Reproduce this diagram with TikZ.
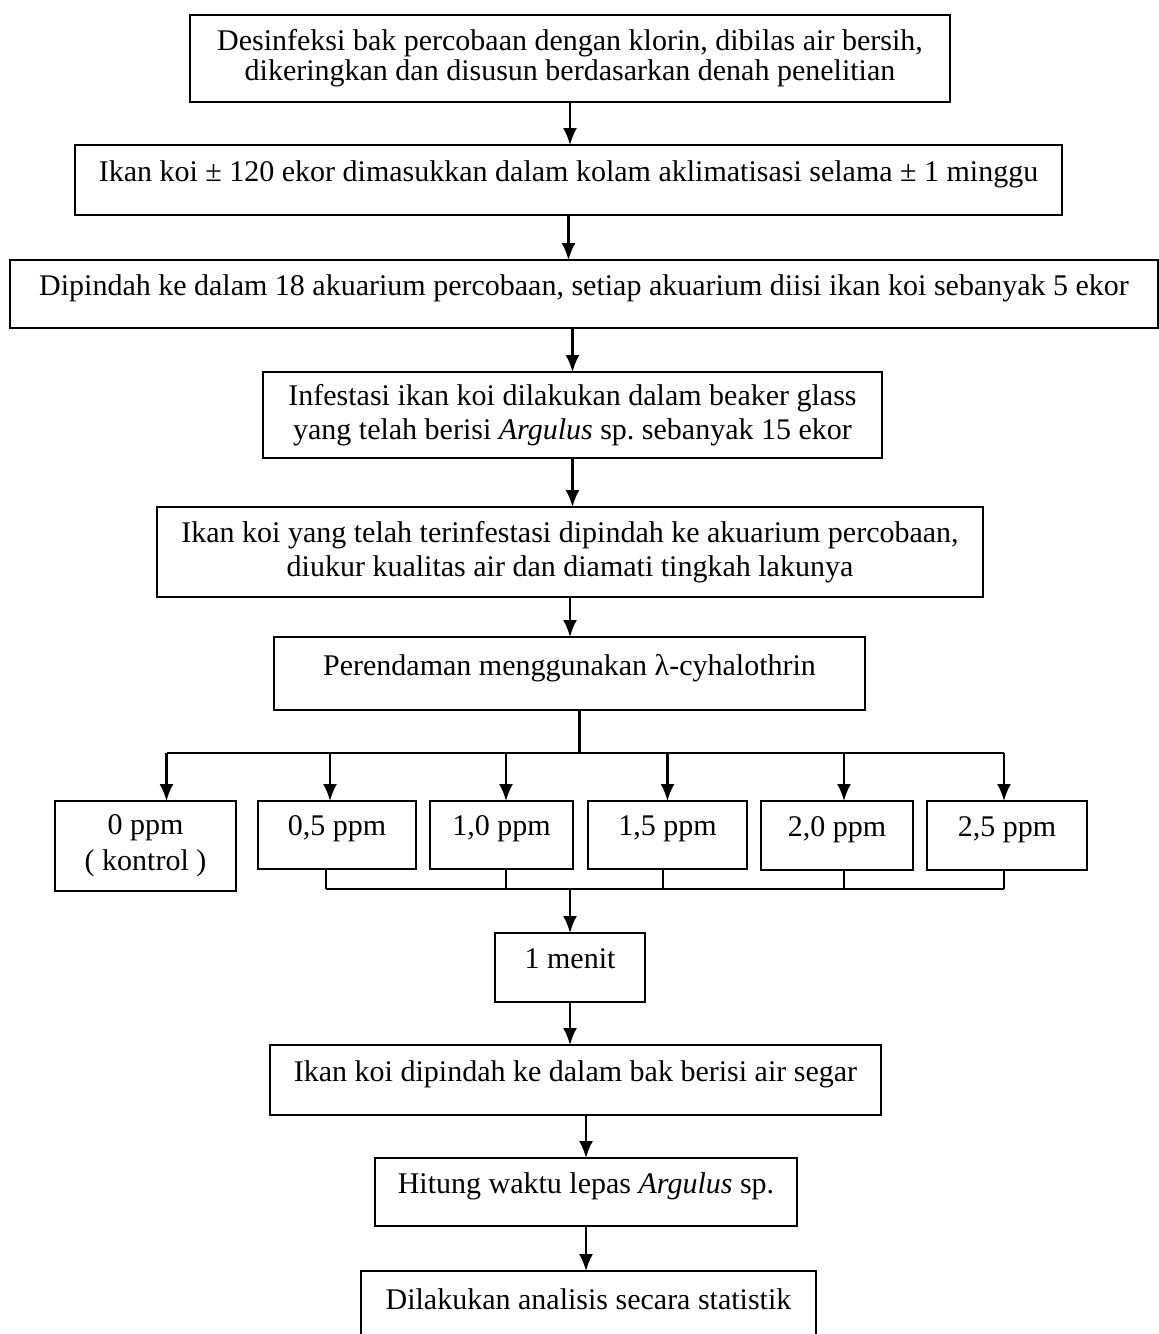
\documentclass[tikz,border=0pt]{standalone}
\usepackage{fontspec}
\setmainfont{Liberation Serif}
\usetikzlibrary{arrows.meta}
\usetikzlibrary{positioning}
\frenchspacing

\begin{document}
\begin{tikzpicture}[%
      every node/.style={rectangle,draw,line width=1.1pt,inner sep=0pt,outer sep=0pt,align=center,
        font=\fontsize{15}{15}\selectfont},
      oneline/.style={text depth=9pt},
      line width=1.1pt,
      node distance=22pt, >={Latex[length=8.5pt,width=7pt]}
    ]
    \useasboundingbox (0,0) rectangle (579.5pt,-667pt);
    \node [minimum width=380pt, minimum height=43.5pt] (0) at (285pt,-29.25pt)
      {Desinfeksi bak percobaan dengan klorin, dibilas air bersih,\\dikeringkan dan disusun berdasarkan denah penelitian};
    \node [oneline, minimum width=493.5pt, minimum height=35pt, below=21.5pt of 0, xshift=-0.75pt] (1)
      {Ikan koi ± 120 ekor dimasukkan dalam kolam aklimatisasi selama ± 1 minggu};
    \node [oneline, minimum width=574pt, minimum height=34pt, below=22.5pt of 1, xshift=7.75pt] (2)
      {Dipindah ke dalam 18 akuarium percobaan, setiap akuarium diisi ikan koi sebanyak 5 ekor};
    \node [minimum width=309.5pt, minimum height=43pt, below=22pt of 2, xshift=-5.75pt] (3)
      {Infestasi ikan koi dilakukan dalam beaker glass\\[2pt]yang telah berisi \textit{Argulus} sp. sebanyak 15 ekor};
    \node [minimum width=413pt, minimum height=45pt, below=24.5pt of 3, xshift=-1.25pt] (4)
      {Ikan koi yang telah terinfestasi dipindah ke akuarium percobaan,\\[2pt]diukur kualitas air dan diamati tingkah lakunya};
    \node [oneline, minimum width=295.5pt, minimum height=36.5pt, below=20pt of 4, xshift=-0.25pt] (5)
      {Perendaman menggunakan λ-cyhalothrin};
    % konsentrasi
    \node [minimum width=90.5pt, minimum height=45pt, below=45.5pt of 5, xshift=-212pt] (k0) {0 ppm\\[3pt]( kontrol )};
    \node [oneline, minimum width=79pt, minimum height=34pt, right=11pt of k0.north east, anchor=north west] (k1) {0,5 ppm};
    \node [oneline, minimum width=71.5pt, minimum height=34pt, right=7pt of k1.north east, anchor=north west] (k2) {1,0 ppm};
    \node [oneline, minimum width=79.5pt, minimum height=34pt, right=7.5pt of k2.north east, anchor=north west] (k3) {1,5 ppm};
    \node [oneline, minimum width=76pt, minimum height=34.5pt, right=7pt of k3.north east, anchor=north west] (k4) {2,0 ppm};
    \node [oneline, minimum width=80pt, minimum height=34.5pt, right=7pt of k4.north east, anchor=north west] (k5) {2,5 ppm};
    \node [oneline, minimum width=75pt, minimum height=34.5pt, below=111.5pt of 5, xshift=0.25pt] (m) {1 menit};
    \node [oneline, minimum width=305.5pt, minimum height=35pt, below=21.5pt of m, xshift=2.75pt] (7)
      {Ikan koi dipindah ke dalam bak berisi air segar};
    \node [oneline, minimum width=211pt, minimum height=34pt, below=21.5pt of 7, xshift=5.25pt] (8)
      {Hitung waktu lepas \textit{Argulus} sp.};
    \node [oneline, minimum width=227.5pt, minimum height=37pt, below=22.5pt of 8, xshift=1.25pt] (9)
      {Dilakukan analisis secara statistik};
    \path [draw] (0.south) edge[->] (0.south |- 1.north)
    (1.south) edge[->] (1.south |- 2.north)
    (3.north |- 2.south) edge[->] (3.north)
    (3.south) edge[->] (3.south |- 4.north)
    (4.south) edge[->] (4.south |- 5.north)
    (m.south) edge[->] (m.south |- 7.north)
    (8.north |- 7.south) edge[->] (8.north)
    (8.south) edge[->] (8.south |- 9.north)
    ;
    % cabang ke konsentrasi
    \draw ([xshift=5pt]5.south) -- ++(0,-21.5pt) coordinate (br);
    \coordinate (a0) at ([xshift=10.5pt]k0.north);
    \draw (a0 |- br) -- ([xshift=-1.5pt]k5.north |- br);
    \draw[->] (a0 |- br) -- (a0);
    \foreach \k/\s in {k1/-3.5,k2/2.25,k3/0,k4/3.5,k5/-1.5}
      \draw[->] ([xshift=\s pt]\k.north |- br) -- ([xshift=\s pt]\k.north);
    % gabung ke 1 menit
    \path (k1.south) ++(0,-10pt) coordinate (mg);
    \foreach \k/\s in {k1/-5.5,k2/2.25,k3/-2.25,k4/3.5,k5/-1.5}
      \draw ([xshift=\s pt]\k.south) -- ([xshift=\s pt]\k.south |- mg);
    \draw ([xshift=-5.5pt]k1.south |- mg) -- ([xshift=-1.5pt]k5.south |- mg);
    \draw[->] (m.north |- mg) -- (m.north);
\end{tikzpicture}
\end{document}
